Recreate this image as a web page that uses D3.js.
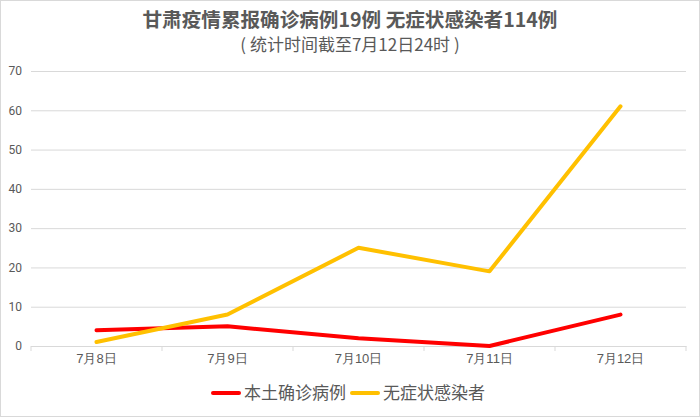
<!DOCTYPE html>
<html>
<head>
<meta charset="utf-8">
<script src="https://cdn.jsdelivr.net/npm/d3@7"></script>
<style>
  body { margin: 0; background: #fff; }
  svg { display: block; font-family: "Noto Sans CJK SC", Roboto, sans-serif; }
</style>
</head>
<body>
<script>
// chart data
const categories = ['7月8日', '7月9日', '7月10日', '7月11日', '7月12日'];
const localCases = [4, 5, 2, 0, 8];
const asymptomatic = [1, 8, 25, 19, 61];
const yTicks = [0, 10, 20, 30, 40, 50, 60, 70];
const seriesNames = ['本土确诊病例', '无症状感染者'];
const seriesColors = ['#ff0000', '#ffc000'];

const W = 700, H = 418;
const margin = { top: 71, right: 14, bottom: 72, left: 31 };

const svg = d3.select('body').append('svg')
    .attr('width', W)
    .attr('height', H);

// outer frame
svg.append('rect')
    .attr('x', 0.5).attr('y', 0.5)
    .attr('width', W - 1).attr('height', H - 2)
    .attr('fill', '#fff')
    .attr('stroke', '#d9d9d9');

svg.append('text')
    .attr('x', 350).attr('y', 27)
    .attr('text-anchor', 'middle')
    .attr('font-size', 19.6).attr('font-weight', 'bold')
    .attr('fill', '#595959')
    .text('甘肃疫情累报确诊病例19例 无症状感染者114例');

svg.append('text')
    .attr('x', 350).attr('y', 51)
    .attr('text-anchor', 'middle')
    .attr('font-size', 17)
    .attr('fill', '#595959')
    .text('( 统计时间截至7月12日24时 )');

const x = d3.scaleBand()
    .domain(categories)
    .range([margin.left, W - margin.right]);

const y = d3.scaleLinear()
    .domain([0, 70])
    .range([H - margin.bottom, margin.top]);

// gridlines + y labels
const yAxis = svg.append('g')
    .attr('transform', `translate(${margin.left},0)`)
    .call(d3.axisLeft(y).tickValues(yTicks)
        .tickSize(-(W - margin.left - margin.right))
        .tickPadding(9));
yAxis.select('.domain').remove();
yAxis.selectAll('.tick line').attr('stroke', '#d9d9d9');
yAxis.selectAll('.tick text')
    .attr('fill', '#595959')
    .attr('font-size', 12)
    .attr('font-family', 'Roboto, sans-serif');

// x axis with ticks at band edges
const xAxis = svg.append('g')
    .attr('transform', `translate(0,${y(0)})`)
    .call(d3.axisBottom(x).tickSize(0).tickPadding(8));
xAxis.select('.domain').attr('stroke', '#d9d9d9');
xAxis.selectAll('.tick text')
    .attr('fill', '#595959')
    .attr('font-size', 13);

const edges = categories.map(c => x(c)).concat([x.range()[1]]);
xAxis.selectAll('.edge')
    .data(edges)
    .enter().append('line')
    .attr('class', 'edge')
    .attr('x1', d => d).attr('x2', d => d)
    .attr('y1', 0).attr('y2', 5)
    .attr('stroke', '#d9d9d9');

const line = d3.line()
    .x((d, i) => x(categories[i]) + x.bandwidth() / 2)
    .y(d => y(d));

[localCases, asymptomatic].forEach((s, i) => {
    svg.append('path')
        .datum(s)
        .attr('fill', 'none')
        .attr('stroke', seriesColors[i])
        .attr('stroke-width', 4)
        .attr('stroke-linecap', 'round')
        .attr('stroke-linejoin', 'round')
        .attr('d', line);
});

// legend
const legendX = [213, 352];
const legend = svg.append('g');
seriesNames.forEach((name, i) => {
    legend.append('line')
        .attr('x1', legendX[i]).attr('x2', legendX[i] + 26)
        .attr('y1', 393).attr('y2', 393)
        .attr('stroke', seriesColors[i])
        .attr('stroke-width', 4)
        .attr('stroke-linecap', 'round');
    legend.append('text')
        .attr('x', legendX[i] + 31).attr('y', 399)
        .attr('font-size', 17)
        .attr('fill', '#595959')
        .text(name);
});
</script>
</body>
</html>
